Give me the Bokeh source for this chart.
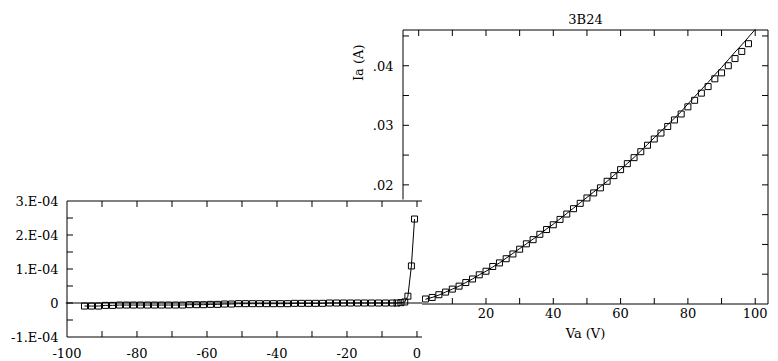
from bokeh.plotting import figure
from bokeh.models import Range1d, FixedTicker, Title, Span, GridBox
from bokeh.embed import file_html
from bokeh.resources import INLINE

FONT = "DejaVu Serif"
FSIZE = "13px"

# ---------------- data: right panel (Va > 0) ----------------
R_VA = [2, 4, 6, 8, 10, 12, 14, 16, 18, 20, 22, 24, 26, 28, 30, 32, 34, 36, 38, 40,
        42, 44, 46, 48, 50, 52, 54, 56, 58, 60, 62, 64, 66, 68, 70, 72, 74, 76, 78, 80,
        82, 84, 86, 88, 90, 92, 94, 96, 98]
R_IA = [0.00084, 0.0011, 0.00156, 0.0020, 0.0025, 0.0030, 0.0036, 0.0042, 0.0049, 0.0055,
        0.0063, 0.0069, 0.0076, 0.0084, 0.0092, 0.0101, 0.0108, 0.0117, 0.0125, 0.0133,
        0.0142, 0.0151, 0.0160, 0.0169, 0.0178, 0.01865, 0.0195, 0.0206, 0.02155, 0.02256,
        0.02356, 0.02457, 0.02557, 0.02665, 0.0277, 0.0287, 0.0298, 0.0309, 0.0319, 0.0331,
        0.0342, 0.0354, 0.0365, 0.0378, 0.0388, 0.0400, 0.0412, 0.0424, 0.0437]

# fitted curve (solid line)
FIT_VA = [2, 4, 6, 8, 10, 12, 14, 16, 18, 20, 22, 24, 26, 28, 30, 32, 34, 36, 38, 40,
          42, 44, 46, 48, 50, 52, 54, 56, 58, 60, 62, 64, 66, 68, 70, 72, 74, 76, 78, 80,
          82, 84, 86, 88, 90, 92, 94, 96, 98, 100]
FIT_IA = [0.0008, 0.0011, 0.0015, 0.0020, 0.0025, 0.0030, 0.0036, 0.0042, 0.0049, 0.0055,
          0.0062, 0.0069, 0.0077, 0.0085, 0.0093, 0.0101, 0.0109, 0.0117, 0.0126, 0.0134,
          0.0143, 0.0152, 0.0161, 0.0170, 0.0179, 0.0188, 0.0197, 0.0206, 0.0216, 0.0226,
          0.0236, 0.0246, 0.0257, 0.0268, 0.0279, 0.0290, 0.0301, 0.0312, 0.0323, 0.0336,
          0.0348, 0.0360, 0.0372, 0.0385, 0.0397, 0.0410, 0.0423, 0.0435, 0.0448, 0.0461]

# ---------------- data: left panel (Va < 0) ----------------
L_VA = [-95, -93, -91, -89, -87, -85, -83, -81, -79, -77, -75, -73, -71, -69, -67, -65,
        -63, -61, -59, -57, -55, -53, -51, -49, -47, -45, -43, -41, -39, -37, -35, -33,
        -31, -29, -27, -25, -23, -21, -19, -17, -15, -13, -11, -9, -7,
        -5.7, -4.6, -3.5, -2.6, -1.6, -0.7]
L_IA = [-9e-6, -9e-6, -9e-6, -7e-6, -7e-6, -6e-6, -6e-6, -6e-6, -6e-6, -6e-6, -6e-6, -6e-6,
        -6e-6, -6e-6, -6e-6, -5e-6, -5e-6, -5e-6, -4e-6, -4e-6, -3e-6, -3e-6, -2e-6, -2e-6,
        -2e-6, -2e-6, -2e-6, -2e-6, -2e-6, -2e-6, -1e-6, -1e-6, -1e-6, -1e-6, -1e-6,
        0, 0, 0, 0, 0, 0, 0, 0, 0, 0,
        0, 1e-6, 3e-6, 2.0e-5, 1.09e-4, 2.47e-4]

# ---------------- axes: limits, ticks, labels ----------------
R_XLIM = (-4.66, 103.8)
R_YLIM = (0.0, 0.046)
R_XTICKS = [20, 40, 60, 80, 100]
R_XTICK_LABELS = ["20", "40", "60", "80", "100"]
R_XTICKS_ALL = [10, 20, 30, 40, 50, 60, 70, 80, 90, 100]
R_TOPTICKS = [0, 10, 20, 30, 40, 50, 60, 70, 80, 90, 100]
R_YTICKS = [0.02, 0.03, 0.04]
R_YTICK_LABELS = [".02", ".03", ".04"]
R_YTICKS_ALL = [0.005, 0.01, 0.015, 0.02, 0.025, 0.03, 0.035, 0.04, 0.045]

L_XLIM = (-100.0, 1.43)
L_YLIM = (-1e-4, 3e-4)
L_XTICKS = [-100, -80, -60, -40, -20, 0]
L_XTICK_LABELS = ["-100", "-80", "-60", "-40", "-20", "0"]
L_XTICKS_ALL = [-90, -80, -70, -60, -50, -40, -30, -20, -10, 0]
L_YTICKS = [-1e-4, 0, 1e-4, 2e-4, 3e-4]
L_YTICK_LABELS = ["-1.E-04", "0", "1.E-04", "2.E-04", "3.E-04"]
L_YTICKS_ALL = [-0.5e-4, 0, 0.5e-4, 1e-4, 1.5e-4, 2e-4, 2.5e-4]

TITLE = "3B24"
XLABEL = "Va (V)"
YLABEL = "Ia (A)"

TICK_PX = 6      # tick length, pixels (ticks point into the plot)
R_BOX_W, R_BOX_H = 365, 274   # pixel size of the right panel's box
L_BOX_W, L_BOX_H = 355, 136   # pixel size of the left panel's box


def label_axis(ax, ticks, labels, standoff):
    ax.ticker = FixedTicker(ticks=ticks)
    ax.axis_line_color = None
    ax.major_tick_line_color = None
    ax.minor_tick_line_color = None
    ax.major_tick_in = 0
    ax.major_tick_out = 0
    ax.major_label_text_font = FONT
    ax.major_label_text_font_size = FSIZE
    ax.major_label_text_color = "black"
    ax.major_label_standoff = standoff
    ax.major_label_overrides = dict(zip(ticks, labels))


# ---------------- right panel ----------------
rux = (R_XLIM[1] - R_XLIM[0]) / R_BOX_W    # data units per pixel
ruy = (R_YLIM[1] - R_YLIM[0]) / R_BOX_H
R = figure(width=430, height=345, output_backend="svg", toolbar_location=None,
           x_range=Range1d(R_XLIM[0] - 1.5 * rux, R_XLIM[1] + 1.5 * rux),
           y_range=Range1d(R_YLIM[0] - 1.5 * ruy, R_YLIM[1] + 1.5 * ruy),
           min_border_left=61, min_border_right=1, min_border_top=28, min_border_bottom=40,
           background_fill_color=None, border_fill_color="white", outline_line_color=None)
R.grid.visible = False

label_axis(R.xaxis[0], R_XTICKS, R_XTICK_LABELS, standoff=2)
label_axis(R.yaxis[0], R_YTICKS, R_YTICK_LABELS, standoff=8)
R.xaxis[0].axis_label = XLABEL
R.xaxis[0].axis_label_text_font = FONT
R.xaxis[0].axis_label_text_font_size = FSIZE
R.xaxis[0].axis_label_text_font_style = "normal"
R.xaxis[0].axis_label_text_color = "black"
R.xaxis[0].axis_label_standoff = 5

R.title.text = TITLE
R.title.align = "center"
R.title.text_font = FONT
R.title.text_font_size = FSIZE
R.title.text_font_style = "normal"
R.title.text_color = "black"
R.title.standoff = 4

R.add_layout(Title(text=YLABEL, align="right", offset=16, standoff=8, text_font=FONT,
                   text_font_size=FSIZE, text_font_style="normal", text_color="black"), "left")

# box and inward ticks
R.quad(left=[R_XLIM[0]], right=[R_XLIM[1]], bottom=[R_YLIM[0]], top=[R_YLIM[1]],
       fill_color=None, line_color="black", line_width=1)
R.segment(x0=R_XTICKS_ALL, x1=R_XTICKS_ALL, y0=[R_YLIM[0]] * len(R_XTICKS_ALL),
          y1=[R_YLIM[0] + TICK_PX * ruy] * len(R_XTICKS_ALL), line_color="black", line_width=1)
R.segment(x0=R_TOPTICKS, x1=R_TOPTICKS, y0=[R_YLIM[1]] * len(R_TOPTICKS),
          y1=[R_YLIM[1] - TICK_PX * ruy] * len(R_TOPTICKS), line_color="black", line_width=1)
R.segment(x0=[R_XLIM[0]] * len(R_YTICKS_ALL), x1=[R_XLIM[0] + TICK_PX * rux] * len(R_YTICKS_ALL),
          y0=R_YTICKS_ALL, y1=R_YTICKS_ALL, line_color="black", line_width=1)
R.segment(x0=[R_XLIM[1]] * len(R_YTICKS_ALL), x1=[R_XLIM[1] - TICK_PX * rux] * len(R_YTICKS_ALL),
          y0=R_YTICKS_ALL, y1=R_YTICKS_ALL, line_color="black", line_width=1)

R.line(FIT_VA, FIT_IA, line_color="black", line_width=1)
R.scatter(R_VA, R_IA, marker="square", size=6, fill_color=None, line_color="black", line_width=1)

# ---------------- left panel ----------------
lux = (L_XLIM[1] - L_XLIM[0]) / L_BOX_W
luy = (L_YLIM[1] - L_YLIM[0]) / L_BOX_H
L = figure(width=422, height=171, output_backend="svg", toolbar_location=None,
           x_range=Range1d(L_XLIM[0] - 1.5 * lux, L_XLIM[1] + 0.5 * lux),
           y_range=Range1d(L_YLIM[0] - 1.5 * luy, L_YLIM[1] + 1.5 * luy),
           min_border_left=65, min_border_right=0, min_border_top=9, min_border_bottom=23,
           background_fill_color="white", border_fill_color=None, outline_line_color=None)
L.grid.visible = False

label_axis(L.xaxis[0], L_XTICKS, L_XTICK_LABELS, standoff=9)
label_axis(L.yaxis[0], L_YTICKS, L_YTICK_LABELS, standoff=7)

# left, top and bottom edges (no right edge) and inward ticks
L.segment(x0=[L_XLIM[0], L_XLIM[0], L_XLIM[0]], x1=[L_XLIM[0], L_XLIM[1], L_XLIM[1]],
          y0=[L_YLIM[0], L_YLIM[1], L_YLIM[0]], y1=[L_YLIM[1], L_YLIM[1], L_YLIM[0]],
          line_color="black", line_width=1)
L.segment(x0=L_XTICKS_ALL, x1=L_XTICKS_ALL, y0=[L_YLIM[0]] * len(L_XTICKS_ALL),
          y1=[L_YLIM[0] + TICK_PX * luy] * len(L_XTICKS_ALL), line_color="black", line_width=1)
L.segment(x0=L_XTICKS_ALL, x1=L_XTICKS_ALL, y0=[L_YLIM[1]] * len(L_XTICKS_ALL),
          y1=[L_YLIM[1] - TICK_PX * luy] * len(L_XTICKS_ALL), line_color="black", line_width=1)
L.segment(x0=[L_XLIM[0]] * len(L_YTICKS_ALL), x1=[L_XLIM[0] + TICK_PX * lux] * len(L_YTICKS_ALL),
          y0=L_YTICKS_ALL, y1=L_YTICKS_ALL, line_color="black", line_width=1)

L.add_layout(Span(location=0, dimension="width", line_color="black", line_width=1))
L.line(L_VA, L_IA, line_color="black", line_width=1)
L.scatter(L_VA, L_IA, marker="square", size=6, fill_color=None, line_color="black", line_width=1)

# overlapping grid cells: right panel spans the top two rows, left panel the bottom two
p = GridBox(children=[(R, 0, 1, 2, 2), (L, 1, 0, 2, 2)],
            rows=["190px", "155px", "16px"], cols=["340px", "82px", "348px"], spacing=0)

open("out.html", "w").write(file_html(p, INLINE))
